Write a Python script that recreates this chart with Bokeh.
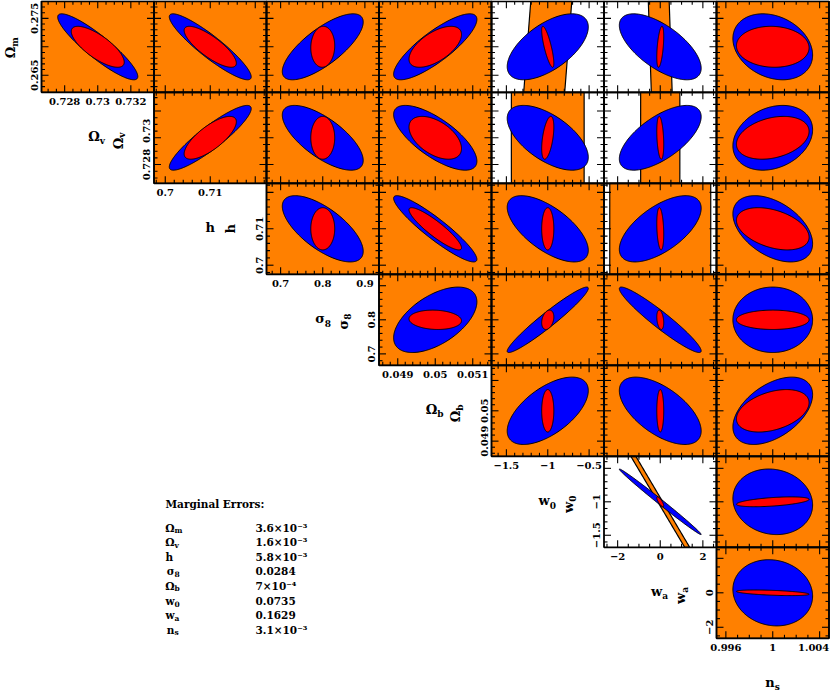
import numpy as np
from math import pi
from bokeh.plotting import figure
from bokeh.models import Range1d
from bokeh.core.properties import value
from bokeh.embed import file_html
from bokeh.resources import INLINE

# ---------------- data ----------------
# parameters: Omega_m, Omega_v, h, sigma_8, Omega_b, w0, wa, n_s
param_main = ["Ω", "Ω", "h", "σ", "Ω", "w", "w", "n"]
param_sub = ["m", "v", "", "8", "b", "0", "a", "s"]
centers = [0.27, 0.73, 0.71, 0.8, 0.05, -1.0, 0.0, 1.0]
half_ranges = [0.008, 0.0034, 0.0125, 0.1335, 0.0015, 0.68, 2.64, 0.0048]
major_steps = [0.005, 0.002, 0.01, 0.1, 0.001, 0.5, 2.0, 0.004]
minor_steps = [0.001, 0.0005, 0.002, 0.02, 0.0002, 0.1, 0.5, 0.001]
x_tick_labels = {1: [0.728, 0.73, 0.732], 2: [0.7, 0.71], 3: [0.7, 0.8, 0.9],
                 4: [0.049, 0.05, 0.051], 5: [-1.5, -1.0, -0.5], 6: [-2, 0, 2],
                 7: [0.996, 1.0, 1.004]}
y_tick_labels = {0: [0.265, 0.275], 1: [0.728, 0.73], 2: [0.7, 0.71], 3: [0.7, 0.8],
                 4: [0.049, 0.05], 5: [-1.5, -1.0], 6: [-2, 0]}
# small pixel nudges of individual tick labels (to keep them apart / inside the page)
x_label_nudge = {7: [0, 0, -6]}
y_label_nudge = {1: [0, -7]}

# 1-sigma half extents of the combined (red) and single-probe (blue) contours
red_sigma = [3.6e-3, 1.6e-3, 5.8e-3, 0.0284, 7e-4, 0.0735, 0.1629, 3.1e-3]
blue_sigma = [0.0058, 0.00242, 0.0091, 0.096, 0.00111, 0.49, 1.92, 0.0034]

# correlation coefficients per panel (row r = y parameter r, columns r..6 = x params r+1..7)
blue_rho = [
    [-0.90, -0.91, 0.75, 0.83, 0.60, -0.65, -0.25],
    [0.90, -0.70, -0.72, -0.60, 0.65, 0.25],
    [-0.68, -0.92, -0.65, 0.62, -0.45],
    [0.55, 0.96, -0.95, 0.0],
    [0.60, -0.60, 0.48],
    [-0.995, -0.10],
    [-0.10],
]
red_rho = [
    [-0.75, -0.80, 0.05, 0.60, -0.80, 0.50, -0.05],
    [0.75, 0.0, -0.50, 0.50, -0.30, 0.30],
    [0.0, -0.90, 0.0, -0.25, -0.40],
    [-0.10, 0.30, -0.30, 0.0],
    [0.0, 0.0, 0.38],
    [-0.80, 0.50],
    [-0.50],
]
# orange constraint bands (other panels are fully covered):
# (row, col) -> (half width along x, slope dx/dy)
orange_bands = {
    (0, 4): (0.248, 5.35),
    (1, 4): (0.44, 0.0),
    (0, 5): (0.49, -8.8),
    (1, 5): (0.92, 0.0),
    (2, 5): (2.37, 0.0),
    (5, 5): (0.117, -1.86),
}

marg_title = "Marginal Errors:"
marg_values = ["3.6×10⁻³", "1.6×10⁻³", "5.8×10⁻³", "0.0284", "7×10⁻⁴",
               "0.0735", "0.1629", "3.1×10⁻³"]

# ---------------- style / layout ----------------
ORANGE, BLUE, RED = "#ff8000", "#0000ff", "#ff0000"
FONT = value("DejaVu Serif")
W, H = 831, 693
X0, DX = 41.0, 112.5
Y0, DY = 0.8, 91.0

p = figure(width=W, height=H, x_range=Range1d(0, W), y_range=Range1d(0, H),
           output_backend="svg", toolbar_location=None, min_border=0,
           x_axis_type=None, y_axis_type=None, outline_line_color=None)
p.background_fill_color = "white"
p.border_fill_color = "white"


def fmt(v):
    return ("%g" % v).replace("-", "−")


def ellipse_pts(cx, cy, C, n=240):
    L = np.linalg.cholesky(np.array(C, dtype=float))
    t = np.linspace(0, 2 * pi, n)
    pts = L @ np.vstack([np.cos(t), np.sin(t)])
    return list(cx + pts[0]), list(cy + pts[1])


def clip_poly(xs, ys, x0, x1, y0, y1):
    pts = list(zip(xs, ys))

    def clip(pts, inside, inter):
        out = []
        if not pts:
            return out
        prev = pts[-1]
        for cur in pts:
            if inside(cur):
                if not inside(prev):
                    out.append(inter(prev, cur))
                out.append(cur)
            elif inside(prev):
                out.append(inter(prev, cur))
            prev = cur
        return out

    def ix(a, b, xv):
        t = (xv - a[0]) / (b[0] - a[0])
        return (xv, a[1] + t * (b[1] - a[1]))

    def iy(a, b, yv):
        t = (yv - a[1]) / (b[1] - a[1])
        return (a[0] + t * (b[0] - a[0]), yv)

    pts = clip(pts, lambda q: q[0] >= x0, lambda a, b: ix(a, b, x0))
    pts = clip(pts, lambda q: q[0] <= x1, lambda a, b: ix(a, b, x1))
    pts = clip(pts, lambda q: q[1] >= y0, lambda a, b: iy(a, b, y0))
    pts = clip(pts, lambda q: q[1] <= y1, lambda a, b: iy(a, b, y1))
    return [q[0] for q in pts], [q[1] for q in pts]


def ticks_for(i):
    lo, hi = centers[i] - half_ranges[i], centers[i] + half_ranges[i]
    ks = np.arange(np.ceil(lo / minor_steps[i]), np.floor(hi / minor_steps[i]) + 1)
    maj, mnr = [], []
    for k in ks:
        v = float(k * minor_steps[i])
        if not (lo < v < hi):
            continue
        r = v / major_steps[i]
        (maj if abs(r - round(r)) < 1e-6 else mnr).append(v)
    return maj, mnr


def txt(target, x, y, s, size, **kw):
    target.text(x=x, y=y, text=s, text_font=FONT, text_font_style="bold",
                text_font_size=size, text_color="black", **kw)


def sym_label(x, y, i, rotated):
    main, sub = param_main[i], param_sub[i]
    if rotated:
        if sub:
            txt(p, [x], [y], [main], "13px", angle=pi / 2, text_align="right", text_baseline="middle")
            txt(p, [x], [y], [sub], "9px", angle=pi / 2, text_align="left", text_baseline="middle", x_offset=4)
        else:
            txt(p, [x], [y], [main], "13px", angle=pi / 2, text_align="center", text_baseline="middle")
    else:
        if sub:
            txt(p, [x + 2], [y], [main], "13px", text_align="right", text_baseline="middle")
            txt(p, [x + 2], [y], [sub], "9px", text_align="left", text_baseline="middle", y_offset=5)
        else:
            txt(p, [x], [y], [main], "13px", text_align="center", text_baseline="middle")


frames = dict(left=[], right=[], top=[], bottom=[])

for r in range(7):
    for c in range(r, 7):
        xi, yi = c + 1, r
        xlo, xhi = centers[xi] - half_ranges[xi], centers[xi] + half_ranges[xi]
        ylo, yhi = centers[yi] - half_ranges[yi], centers[yi] + half_ranges[yi]
        left = X0 + c * DX
        right = left + DX
        top_t = Y0 + r * DY
        bot_t = top_t + DY
        sub = p.subplot(x_source=Range1d(xlo, xhi), y_source=Range1d(ylo, yhi),
                        x_target=Range1d(left, right), y_target=Range1d(H - bot_t, H - top_t))
        # orange constraint
        if (r, c) in orange_bands:
            w, slope = orange_bands[(r, c)]
            L = 30 * half_ranges[yi]
            C = [[slope ** 2 * L ** 2 + w ** 2, slope * L ** 2], [slope * L ** 2, L ** 2]]
            ox, oy = ellipse_pts(centers[xi], centers[yi], C, 6000)
            ox, oy = clip_poly(ox, oy, xlo, xhi, ylo, yhi)
        else:
            ox, oy = [xlo, xhi, xhi, xlo], [ylo, ylo, yhi, yhi]
        sub.patch(ox, oy, fill_color=ORANGE, line_color="black", line_width=1.2)
        # blue and red contours
        for sig, rho, col in ((blue_sigma, blue_rho, BLUE), (red_sigma, red_rho, RED)):
            sx_, sy_ = sig[xi], sig[yi]
            rr = rho[r][c - r]
            C = [[sx_ ** 2, rr * sx_ * sy_], [rr * sx_ * sy_, sy_ ** 2]]
            ex, ey = ellipse_pts(centers[xi], centers[yi], C)
            sub.patch(ex, ey, fill_color=col, line_color="black", line_width=1)
        # ticks (inward)
        xmaj, xmin_ = ticks_for(xi)
        ymaj, ymin_ = ticks_for(yi)
        for vals, ln in ((xmaj, 7), (xmin_, 3.5)):
            n = len(vals)
            sub.ray(x=vals + vals, y=[ylo] * n + [yhi] * n, length=ln, length_units="screen",
                    angle=[pi / 2] * n + [-pi / 2] * n, line_color="black", line_width=1.1)
        for vals, ln in ((ymaj, 7), (ymin_, 3.5)):
            n = len(vals)
            sub.ray(x=[xlo] * n + [xhi] * n, y=vals + vals, length=ln, length_units="screen",
                    angle=[0.0] * n + [pi] * n, line_color="black", line_width=1.1)
        frames["left"].append(left)
        frames["right"].append(right)
        frames["top"].append(H - top_t)
        frames["bottom"].append(H - bot_t)
        # tick labels and axis labels on diagonal panels
        if c == r:
            xl = x_tick_labels[xi]
            xn = x_label_nudge.get(xi, [0] * len(xl))
            txt(sub, xl, [ylo] * len(xl), [fmt(v) for v in xl], "10px",
                text_align="center", text_baseline="top", y_offset=6, x_offset=xn)
            yl = y_tick_labels[yi]
            yn = y_label_nudge.get(yi, [0] * len(yl))
            txt(sub, [xlo] * len(yl), yl, [fmt(v) for v in yl], "10px",
                angle=pi / 2, text_align="center", text_baseline="bottom", x_offset=-4, y_offset=yn)
            lx = left - (31 if r == 0 else 36)
            sym_label(lx, H - (top_t + DY / 2), yi, True)
            sym_label((left + right) / 2, H - (bot_t + 44), xi, False)

p.quad(left=frames["left"], right=frames["right"], top=frames["top"], bottom=frames["bottom"],
       fill_alpha=0, line_color="black", line_width=1.8)

# marginal errors block
bx, vx = 165, 255
txt(p, [bx], [H - 503], [marg_title], "10.5px", text_align="left", text_baseline="middle")
for k in range(8):
    yk = H - (527 + k * 14.6)
    main, sb = param_main[k], param_sub[k]
    if sb:
        txt(p, [bx + 9], [yk], [main], "10.5px", text_align="right", text_baseline="middle")
        txt(p, [bx + 9], [yk], [sb], "7.5px", text_align="left", text_baseline="middle", y_offset=3)
    else:
        txt(p, [bx], [yk], [main], "10.5px", text_align="left", text_baseline="middle")
    txt(p, [vx], [yk], [marg_values[k]], "10.5px", text_align="left", text_baseline="middle")

open("out.html", "w").write(file_html(p, INLINE))
